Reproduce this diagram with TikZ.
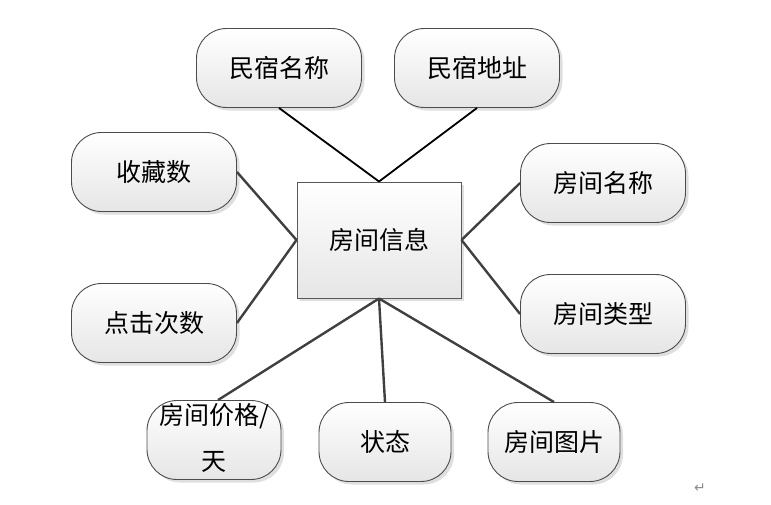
\documentclass[tikz,border=0pt]{standalone}
\usepackage{fontspec}
\newfontfamily\cjk{Noto Sans CJK SC}
\newfontfamily\djv{DejaVu Sans}
\usetikzlibrary{shadows}
\tikzset{
  attr/.style={draw=black!70, line width=0.9pt, rounded corners=30pt, minimum width=#1, minimum height=79pt,
    top color=white, bottom color=black!10, drop shadow={opacity=0.25, shadow xshift=3pt, shadow yshift=-3pt},
    font=\cjk\fontsize{25}{32}\selectfont, inner sep=0pt, align=center},
  attr/.default=165pt,
  entity/.style={draw=black!65, line width=1pt, minimum width=164pt, minimum height=116pt,
    top color=white, bottom color=black!10, drop shadow={opacity=0.25, shadow xshift=3pt, shadow yshift=-3pt},
    font=\cjk\fontsize{25}{32}\selectfont},
  link/.style={draw=black!75, line width=2.4pt},
  linkd/.style={draw=black, line width=1.8pt}
}
\begin{document}
\begin{tikzpicture}[x=1pt,y=-1pt]
\useasboundingbox (0,0) rectangle (771,504);
\node[entity] (c) at (379,240) {房间信息};
\node[attr] (a1) at (279,68) {民宿名称};
\node[attr] (a2) at (477,68) {民宿地址};
\node[attr] (a3) at (154,172) {收藏数};
\node[attr] (a4) at (603,183) {房间名称};
\node[attr] (a5) at (154,323) {点击次数};
\node[attr] (a6) at (603,314) {房间类型};
\node[attr=134pt] (a7) at (214,440) {\rule{0pt}{0pt}};
\node[font=\cjk\fontsize{25}{32}\selectfont, align=center, inner sep=0pt] (a7t) at (214,438) {房间价格/\\[14pt]天};
\node[attr=132pt] (a8) at (385,442) {状态};
\node[attr=132pt] (a9) at (554,442) {房间图片};
\draw[linkd] (a1.south) -- (c.north);
\draw[linkd] (a2.south) -- (c.north);
\draw[link] (a3.east) -- (c.west);
\draw[link] (a5.east) -- (c.west);
\draw[link] (a4.west) -- (c.east);
\draw[link] (a6.west) -- (c.east);
\draw[link] (c.south) -- ([xshift=4pt]a7.north);
\draw[link] (c.south) -- (a8.north);
\draw[link] (c.south) -- (a9.north);
\node[font=\djv\fontsize{14}{14}\selectfont, text=black!45] (pm) at (700,488) {↵};
\end{tikzpicture}
\end{document}
